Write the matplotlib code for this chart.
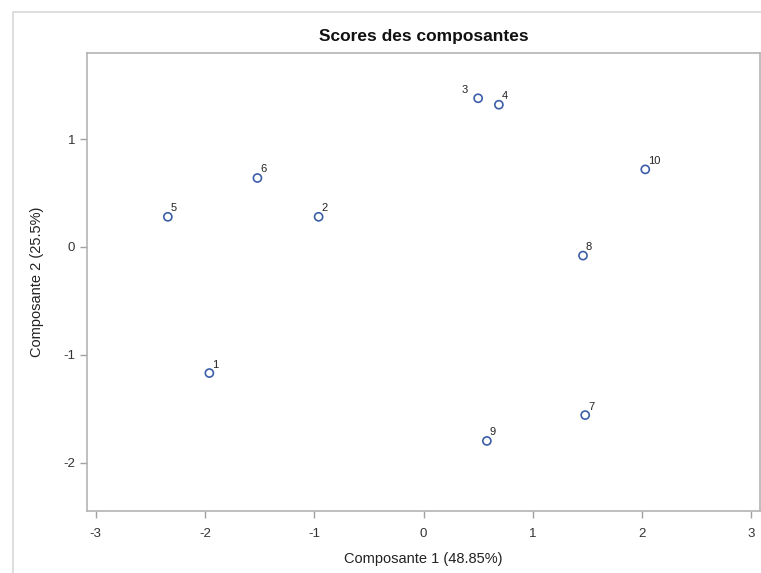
import numpy as np
import matplotlib.pyplot as plt
from matplotlib.patches import Rectangle

plt.rcParams['font.family'] = ['Liberation Sans', 'DejaVu Sans']

# scores des individus sur les deux premieres composantes
ids = ['1', '2', '3', '4', '5', '6', '7', '8', '9', '10']
comp1 = [-1.96, -0.96, 0.50, 0.69, -2.34, -1.52, 1.48, 1.46, 0.58, 2.03]
comp2 = [-1.17, 0.28, 1.38, 1.32, 0.28, 0.64, -1.56, -0.08, -1.80, 0.72]
xticks = [-3, -2, -1, 0, 1, 2, 3]
yticks = [-2, -1, 0, 1]

fig = plt.figure(figsize=(7.61, 5.73), dpi=100)
W, H = 761, 573
ax = fig.add_axes([87 / W, 1 - 511 / H, (760 - 87) / W, (511 - 53) / H])

# cadre exterieur du graphique
fig.patches.append(Rectangle((13 / W, -0.1), 1.2, 1 - 12 / H + 0.1,
                             transform=fig.transFigure, fill=False,
                             edgecolor='#d8d8d8', linewidth=1.2))

ax.scatter(comp1, comp2, s=34, facecolors='none', edgecolors='#3c5ea8',
           linewidths=1.2, zorder=3)
for i, x, y in zip(ids, comp1, comp2):
    if i == '3':
        ax.annotate(i, (x, y), xytext=(-12, 4), textcoords='offset points',
                    fontsize=8, color='#222222')
    else:
        ax.annotate(i, (x, y), xytext=(2, 4), textcoords='offset points',
                    fontsize=8, color='#222222')

ax.set_xlim(-3.08, 3.08)
ax.set_ylim(-2.45, 1.80)
ax.set_xticks(xticks)
ax.set_yticks(yticks)
ax.set_xticklabels([str(t) for t in xticks])
ax.set_yticklabels([str(t) for t in yticks])
ax.tick_params(colors='#a0a0a0', labelcolor='#333333', labelsize=9.5,
               length=5, width=1)
ax.tick_params(axis='x', pad=7)
for sp in ax.spines.values():
    sp.set_color('#b4b4b4')
    sp.set_linewidth(1.2)

ax.set_xlabel('Composante 1 (48.85%)', fontsize=10.5, color='#222222', labelpad=9)
ax.set_ylabel('Composante 2 (25.5%)', fontsize=10.5, color='#222222', labelpad=14)
ax.set_title('Scores des composantes', fontsize=12.5, fontweight='bold',
             color='#111111', pad=9)

fig.savefig('out.png', dpi=100)
